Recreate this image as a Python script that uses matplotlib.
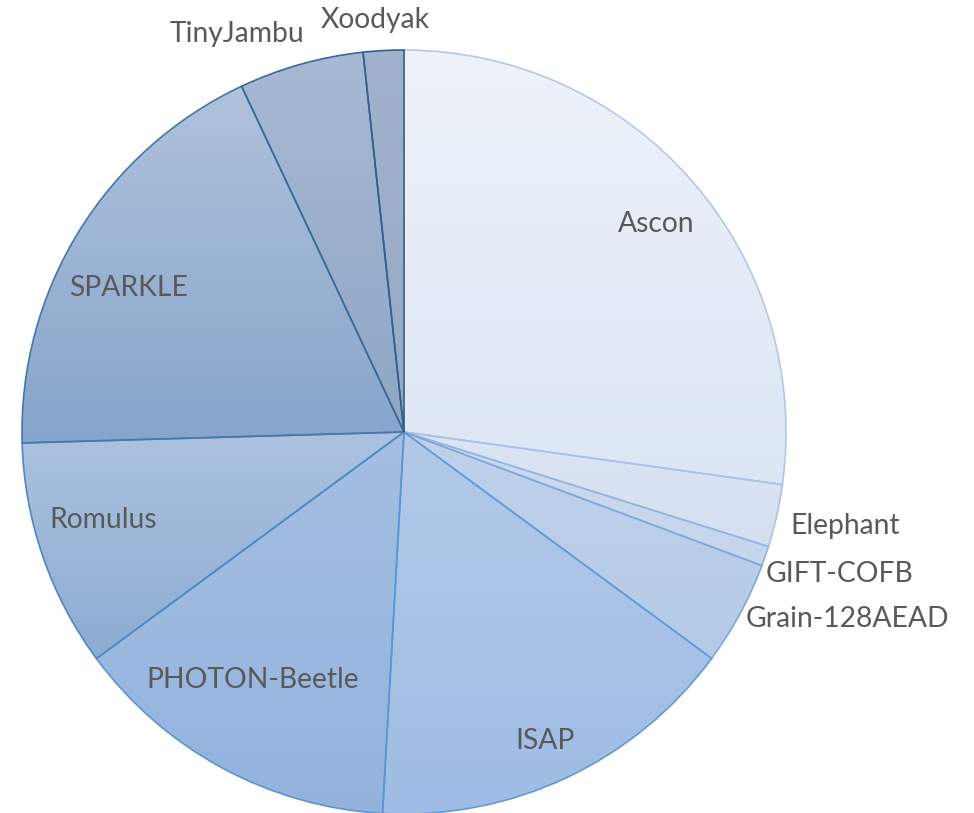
import numpy as np
import matplotlib
matplotlib.use("Agg")
import matplotlib.pyplot as plt
from matplotlib.colors import LinearSegmentedColormap

# ---- data ----
categories = ["Ascon", "Elephant", "GIFT-COFB", "Grain-128AEAD", "ISAP",
              "PHOTON-Beetle", "Romulus", "SPARKLE", "TinyJambu", "Xoodyak"]
shares = [27.2, 2.65, 0.84, 4.41, 15.8, 14.0, 9.65, 18.47, 5.28, 1.71]

# ---- style ----
top_colors = ["#EEF3FA", "#DCE5F3", "#CCDAEF", "#C0D2EC", "#B2C9E9",
              "#A5BFE3", "#ACC2E0", "#B0C2DC", "#A7B9D4", "#A0B2CC"]
bottom_colors = ["#DDE6F4", "#D4DFF1", "#C5D5EC", "#B4CAE8", "#9FBCE4",
                 "#93B3DD", "#8DACD3", "#86A5CB", "#8FA6C6", "#97AAC5"]
edge_colors = ["#B4C7E7", "#A9C1E4", "#93B5DF", "#7FA8DA", "#5E9BD5",
               "#5B96D0", "#4F88C0", "#4677AA", "#3C6A96", "#335F8A"]
# label anchor: (fraction of radius, angle in degrees, math convention)
label_pos = [(0.855, 39.5), (1.18, -12.1), (1.20, -18.0), (1.26, -22.9),
             (0.89, -65.4), (0.76, -121.5), (0.82, -163.6), (0.815, 152.4),
             (1.13, 112.7), (1.08, 94.0)]

W, H = 974, 813
fig = plt.figure(figsize=(W / 100, H / 100), dpi=100)
cx, cy, R = 404, 813 - 432, 382
ax = fig.add_axes([(cx - R) / W, (cy - R) / H, 2 * R / W, 2 * R / H])
ax.set_xlim(-1, 1)
ax.set_ylim(-1, 1)
ax.set_aspect("equal")
ax.axis("off")

wedges, _ = ax.pie(shares, startangle=90, counterclock=False, radius=1,
                   wedgeprops=dict(facecolor="none", linewidth=1.2))

for w, tc, bc, ec in zip(wedges, top_colors, bottom_colors, edge_colors):
    w.set_edgecolor(ec)
    w.set_zorder(2)
    ext = w.get_path().get_extents()
    cmap = LinearSegmentedColormap.from_list("g", [tc, bc])
    grad = np.linspace(0, 1, 256).reshape(-1, 1)
    im = ax.imshow(grad, cmap=cmap, aspect="auto", origin="upper",
                   extent=[ext.x0, ext.x1, ext.y0, ext.y1], zorder=1,
                   interpolation="bilinear")
    im.set_clip_path(w)

ax.set_xlim(-1, 1)
ax.set_ylim(-1, 1)

for name, (rf, ang) in zip(categories, label_pos):
    a = np.deg2rad(ang)
    ax.text(rf * np.cos(a), rf * np.sin(a), name, ha="center", va="center",
            fontsize=20.3, color="#595959", family="Lato", clip_on=False,
            zorder=5)

fig.savefig("out.png", dpi=100, facecolor="white")
